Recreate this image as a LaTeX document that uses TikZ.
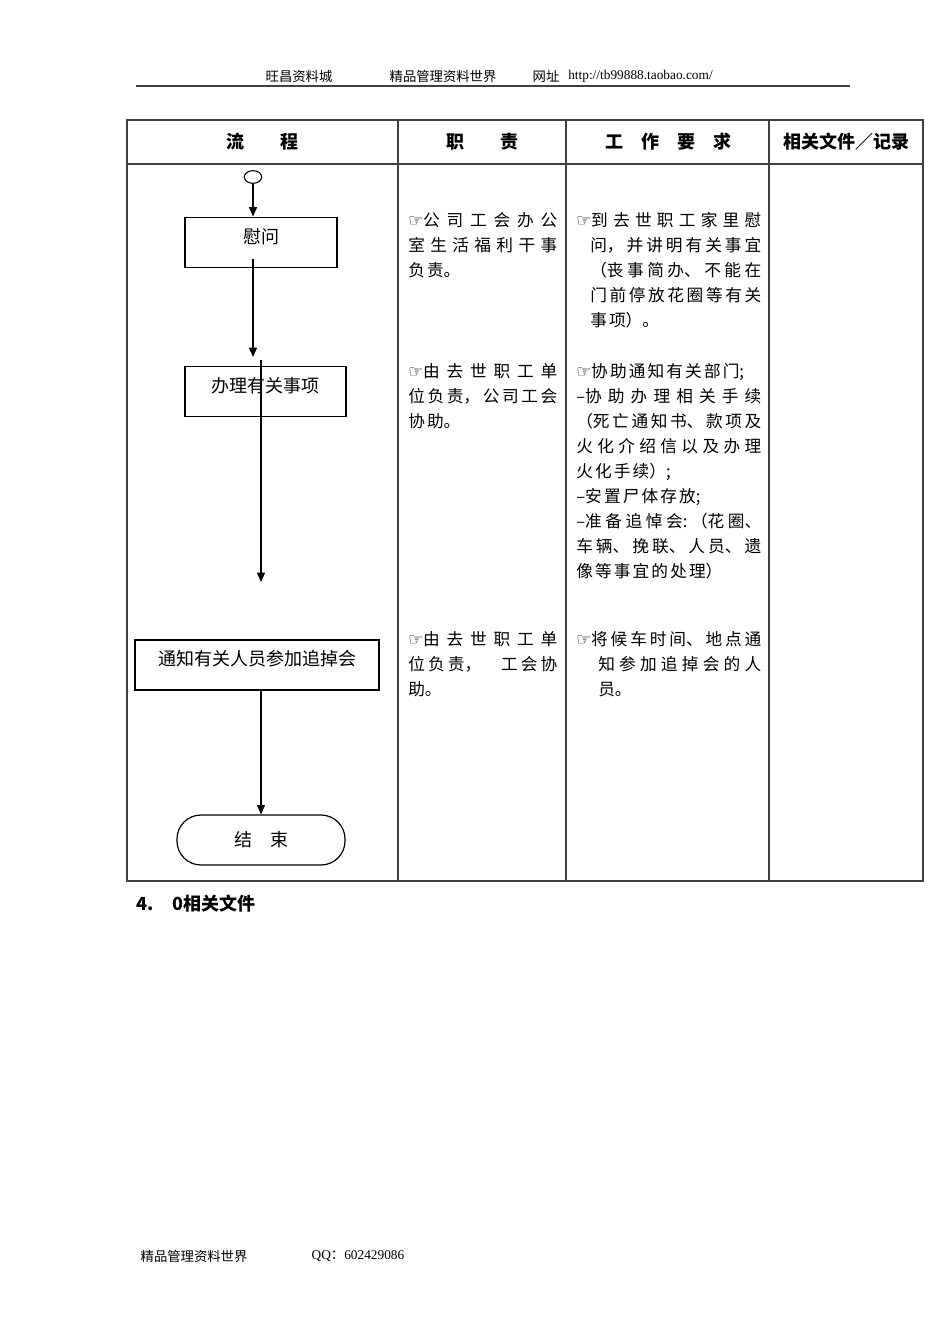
\documentclass[tikz,border=0pt]{standalone}
\usepackage{fontspec}
\setmainfont{Liberation Serif}
\newfontfamily\cjk{Noto Sans CJK SC}
\newfontfamily\symb{DejaVu Sans}
\usepackage{tikz}
\usetikzlibrary{shapes.geometric, arrows.meta, positioning}
\XeTeXlinebreaklocale "zh"
\XeTeXlinebreakskip=0pt plus 6pt
\newcommand{\handmark}{{\symb ☞}}
\newcommand{\bodyfont}{\cjk\fontsize{12.5}{18.75}\selectfont\XeTeXlinebreakskip=1.6pt plus 6pt}
\newcommand{\flowfont}{\cjk\fontsize{13.5}{16}\selectfont}

\begin{document}
\begin{tikzpicture}[x=0.75pt, y=-0.75pt,
    tbl/.style={draw=black!75, line width=0.8pt},
    flowbox/.style={draw, line width=0.9pt, rectangle, inner sep=0pt, minimum height=38pt, font=\flowfont, text height=11pt, text depth=10pt},
    endbox/.style={draw, line width=0.9pt, rectangle, rounded corners=18pt, inner sep=0pt, minimum width=126pt, minimum height=37.5pt, font=\flowfont},
    startc/.style={draw, ellipse, line width=0.8pt, minimum width=13pt, minimum height=9.5pt, inner sep=0pt},
    arr/.style={line width=0.8pt, -{Triangle[length=7pt, width=6pt]}},
    head/.style={font=\cjk\bfseries\fontsize{13.5}{16}\selectfont, inner sep=0pt},
    duty/.style={anchor=base west, inner sep=0pt, text width=111.75pt, align=justify, font=\bodyfont},
    req/.style={duty, text width=138.75pt},
  ]
  \useasboundingbox[fill=white] (0,0) rectangle (950,1344);

  % Page header
  \node[font=\cjk\fontsize{10}{12}\selectfont] (hd1) at (299,76) {旺昌资料城};
  \node[font=\cjk\fontsize{10}{12}\selectfont] (hd2) at (443,76) {精品管理资料世界};
  \node[font=\cjk\fontsize{10}{12}\selectfont] (hd3) at (546,76) {网址};
  \node[font=\fontsize{10}{12}\selectfont, anchor=west, inner sep=0pt] (url) at (568,76) {http://tb99888.taobao.com/};
  \draw[black!75, line width=1.5pt] (136,86) -- (850,86);

  % Table frame
  \draw[tbl] (127,120) rectangle (923,881);
  \draw[tbl] (127,164) -- (923,164);
  \draw[tbl] (398,120) -- (398,881);
  \draw[tbl] (566,120) -- (566,881);
  \draw[tbl] (769,120) -- (769,881);

  % Table header
  \node[head] (h1) at (262,142) {流　　程};
  \node[head] (h2) at (482,142) {职　　责};
  \node[head] (h3) at (668,142) {工　作　要　求};
  \node[head] (h4) at (846,142) {相关文件／记录};

  % Flow
  \node[startc] (start) at (253,177) {};
  \node[flowbox, minimum width=114pt] (weiwen) at (261,242.5) {慰问};
  \node[flowbox, minimum width=120.75pt] (banli) at (265.5,391.5) {办理有关事项};
  \node[flowbox, minimum width=183pt, minimum height=37.5pt] (tongzhi) at (257,665) {通知有关人员参加追掉会};
  \node[endbox] (jieshu) at (261,840) {结　束};

  \coordinate (a1) at (253,259);
  \coordinate (a2) at (253,357);
  \coordinate (b1) at (261,360);
  \coordinate (b2) at (261,582);

  \draw[arr] (start) -- (start |- weiwen.north);
  \draw[arr] (a1) -- (a2);
  \draw[arr] (b1) -- (b2);
  \draw[arr] (jieshu.north |- tongzhi.south) -- (jieshu.north);

  % Duties
  \node[duty] (d1) at (408,227) {\handmark 公司工会办公\linebreak 室生活福利干事\linebreak 负责。};
  \node[duty] (d2) at (408,377) {\handmark 由去世职工单\linebreak 位负责，公司工会\linebreak 协助。};
  \node[duty] (d3) at (408,645) {\handmark 由去世职工单\linebreak 位负责，　工会协\linebreak 助。};

  % Requirements
  \node[req] (r1) at (576,227) {\handmark 到去世职工家里慰\linebreak \hspace*{10.5pt}问，并讲明有关事宜\linebreak \hspace*{10.5pt}（丧事简办、不能在\linebreak \hspace*{10.5pt}门前停放花圈等有关\linebreak \hspace*{10.5pt}事项）。};
  \node[req] (r2) at (576,377) {\handmark 协助通知有关部门;\newline –协助办理相关手续\linebreak （死亡通知书、款项及\linebreak 火化介绍信以及办理\linebreak 火化手续）;\newline –安置尸体存放;\newline –准备追悼会:（花圈、\linebreak 车辆、挽联、人员、遗\linebreak 像等事宜的处理）};
  \node[req] (r3) at (576,645) {\handmark 将候车时间、地点通\linebreak \hspace*{16.5pt}知参加追掉会的人\linebreak \hspace*{16.5pt}员。};

  % Section title
  \node[font=\cjk\bfseries\fontsize{13.5}{16}\selectfont, anchor=west, inner sep=0pt] (sec) at (136,904) {4.\hspace{14pt}0相关文件};

  % Page footer
  \node[font=\cjk\fontsize{10}{12}\selectfont] (ft1) at (194,1256) {精品管理资料世界};
  \node[font=\fontsize{10}{12}\selectfont] (ft2) at (358,1256) {QQ{\cjk ：}602429086};
\end{tikzpicture}
\end{document}
